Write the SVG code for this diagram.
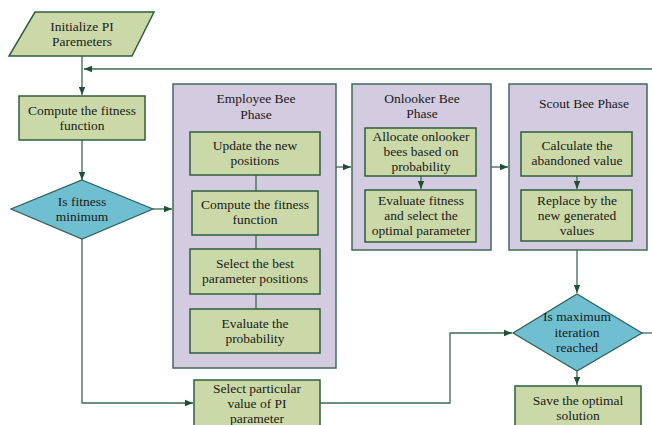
<svg xmlns="http://www.w3.org/2000/svg" width="652" height="425" viewBox="0 0 652 425">
<defs>
<style>
.g{fill:#cbd9a8;stroke:#2e5e3e;stroke-width:1.5}
.p{fill:#d3cbe0;stroke:#44685a;stroke-width:1.5}
.d{fill:#6fbfd0;stroke:#2d5e56;stroke-width:1.2}
.t{font-family:"Liberation Serif",serif;font-size:13.5px;fill:#1a1a1a;text-anchor:middle}
.c{fill:none;stroke:#3d6a55;stroke-width:1.3}
</style>
<marker id="a" viewBox="0 0 10 10" refX="10" refY="5" markerWidth="8" markerHeight="8" markerUnits="userSpaceOnUse" orient="auto">
<path d="M0,1 L10,5 L0,9 z" fill="#1f4f35"/>
</marker>
</defs>
<rect width="652" height="425" fill="#ffffff"/>
<g id="employee">
<rect class="p" x="173" y="84" width="163" height="284"/>
<text class="t" x="256" y="103">Employee Bee</text>
<text class="t" x="256" y="119">Phase</text>
</g>
<g id="onlooker">
<rect class="p" x="352" y="84" width="139" height="166"/>
<text class="t" x="422" y="103">Onlooker Bee</text>
<text class="t" x="422" y="118">Phase</text>
</g>
<g id="scout">
<rect class="p" x="509" y="84" width="138" height="166"/>
<text class="t" x="584" y="108">Scout Bee Phase</text>
</g>
<g id="connectors">
<path class="c" d="M82,56 V95" marker-end="url(#a)"/>
<path class="c" d="M652,69 H84" marker-end="url(#a)"/>
<path class="c" d="M82,140 V180" marker-end="url(#a)"/>
<path class="c" d="M153,209 H172" marker-end="url(#a)"/>
<path class="c" d="M256,175 V191 M256,235 V249 M256,294 V309"/>
<path class="c" d="M82,239 V403 H193" marker-end="url(#a)"/>
<path class="c" d="M320,403 H450 V333 H512" marker-end="url(#a)"/>
<path class="c" d="M336,167 H351" marker-end="url(#a)"/>
<path class="c" d="M421,176 V189" marker-end="url(#a)"/>
<path class="c" d="M491,167 H508" marker-end="url(#a)"/>
<path class="c" d="M577,176 V189" marker-end="url(#a)"/>
<path class="c" d="M577,250 V293" marker-end="url(#a)"/>
<path class="c" d="M642,333 H652"/>
<path class="c" d="M577,371 V385" marker-end="url(#a)"/>
</g>
<g id="init">
<polygon class="g" points="35,12 154,12 132,56 9,56"/>
<text class="t" x="82" y="31">Initialize PI</text>
<text class="t" x="82" y="46">Paremeters</text>
</g>
<g id="compute1">
<rect class="g" x="19" y="96" width="126" height="44"/>
<text class="t" x="82" y="115">Compute the fitness</text>
<text class="t" x="82" y="130">function</text>
</g>
<g id="isfit">
<polygon class="d" points="82,180 153,209 82,239 11,209"/>
<text class="t" x="82" y="206">Is fitness</text>
<text class="t" x="82" y="221">minimum</text>
</g>
<g id="update">
<rect class="g" x="190" y="132" width="130" height="43"/>
<text class="t" x="255" y="150">Update the new</text>
<text class="t" x="255" y="165">positions</text>
</g>
<g id="compute2">
<rect class="g" x="192" y="191" width="126" height="44"/>
<text class="t" x="255" y="209">Compute the fitness</text>
<text class="t" x="255" y="224">function</text>
</g>
<g id="selectbest">
<rect class="g" x="190" y="249" width="130" height="45"/>
<text class="t" x="255" y="268">Select the best</text>
<text class="t" x="255" y="283">parameter positions</text>
</g>
<g id="evalprob">
<rect class="g" x="190" y="309" width="130" height="44"/>
<text class="t" x="255" y="328">Evaluate the</text>
<text class="t" x="255" y="343">probability</text>
</g>
<g id="selectpi">
<rect class="g" x="194" y="380" width="126" height="50"/>
<text class="t" x="257" y="393">Select particular</text>
<text class="t" x="257" y="408">value of PI</text>
<text class="t" x="257" y="423">parameter</text>
</g>
<g id="allocate">
<rect class="g" x="365" y="128" width="111" height="48"/>
<text class="t" x="421" y="141">Allocate onlooker</text>
<text class="t" x="421" y="156">bees based on</text>
<text class="t" x="421" y="171">probability</text>
</g>
<g id="evalfit">
<rect class="g" x="365" y="190" width="111" height="52"/>
<text class="t" x="421" y="205">Evaluate fitness</text>
<text class="t" x="421" y="220">and select the</text>
<text class="t" x="421" y="235">optimal parameter</text>
</g>
<g id="calc">
<rect class="g" x="521" y="132" width="111" height="44"/>
<text class="t" x="577" y="150">Calculate the</text>
<text class="t" x="577" y="165">abandoned value</text>
</g>
<g id="replace">
<rect class="g" x="521" y="190" width="111" height="51"/>
<text class="t" x="577" y="205">Replace by the</text>
<text class="t" x="577" y="220">new generated</text>
<text class="t" x="577" y="235">values</text>
</g>
<g id="ismax">
<polygon class="d" points="577,294 642,333 577,371 513,333"/>
<text class="t" x="577" y="321">Is maximum</text>
<text class="t" x="577" y="337">iteration</text>
<text class="t" x="577" y="352">reached</text>
</g>
<g id="save">
<rect class="g" x="515" y="386" width="126" height="45"/>
<text class="t" x="578" y="405">Save the optimal</text>
<text class="t" x="578" y="420">solution</text>
</g>
</svg>
